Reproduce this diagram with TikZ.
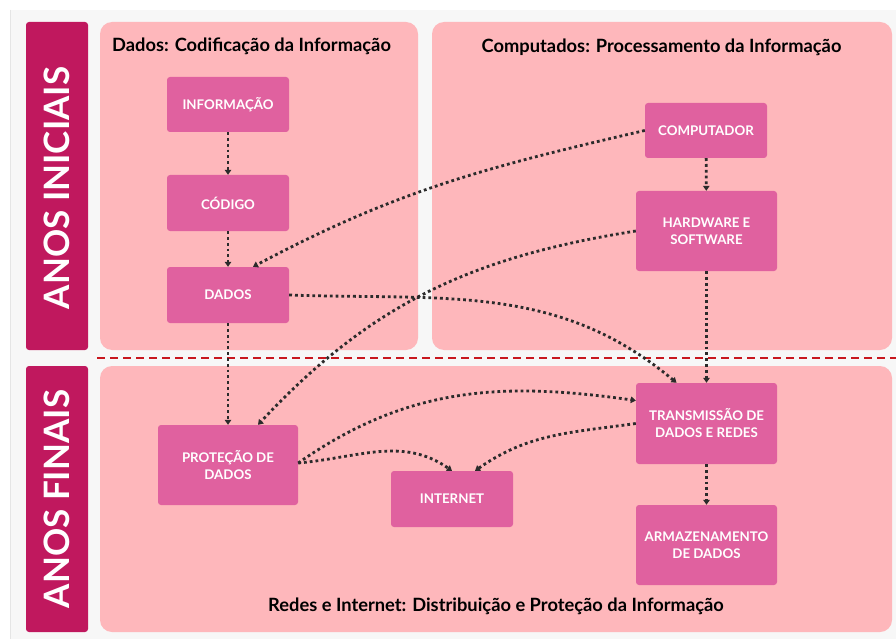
\documentclass[tikz,border=0pt]{standalone}
\usepackage{fontspec}
\setmainfont{Lato}
\usetikzlibrary{positioning,arrows.meta,calc}
\definecolor{barmag}{HTML}{C0185E}
\definecolor{panelpink}{HTML}{FEB7BB}
\definecolor{boxpink}{HTML}{E0619F}
\definecolor{dotgray}{HTML}{2B2B2B}
\definecolor{divred}{HTML}{C8171E}
\definecolor{bggray}{HTML}{F7F7F7}

\begin{document}
\begin{tikzpicture}[
    x=1pt, y=1pt,
    panel/.style={fill=panelpink, rounded corners=12pt},
    bar/.style={fill=barmag, rounded corners=3pt},
    barlbl/.style={text=white, font=\fontsize{35}{35}\selectfont\bfseries, rotate=90},
    box/.style={fill=boxpink, rounded corners=3pt, text=white, align=center,
                font=\fontsize{13.3}{17}\selectfont\bfseries, inner sep=0pt},
    hdr/.style={font=\fontsize{18.3}{22}\selectfont\bfseries},
    arr/.style={-{Triangle[length=5pt,width=6.5pt]}, dotgray, line width=2.8pt,
                dash pattern=on 2.8pt off 3pt},
  ]
  \useasboundingbox (0,0) rectangle (896,-639);
  \fill[white] (0,0) rectangle (896,-639);
  \fill[bggray] (10,-10) rectangle (896,-639);
  \draw[gray!20] (10,-10) -- (10,-639);

  % Side bars
  \fill[bar] (26,-22) rectangle (88,-350);
  \fill[bar] (26,-366) rectangle (88,-632);
  \node[barlbl] (lini) at (57,-188) {ANOS INICIAIS};
  \node[barlbl] (lfin) at (57,-499) {ANOS FINAIS};

  % Panels
  \fill[panel] (100,-22) rectangle (418,-350);
  \fill[panel] (432,-22) rectangle (892,-350);
  \fill[panel] (100,-366) rectangle (892,-632);
  \draw[divred, line width=2pt, dash pattern=on 8pt off 5pt] (97,-358) -- (896,-358);

  \node[hdr] (hdados) at (251.5,-46) {Dados: Codificação da Informação};
  \node[hdr] (hcomp) at (661.5,-47) {Computados: Processamento da Informação};
  \node[hdr] (hredes) at (496,-606) {Redes e Internet: Distribuição e Proteção da Informação};

  % Dados
  \node[box, minimum width=122pt, minimum height=55pt] (info) at (228,-104.5) {INFORMAÇÃO};
  \node[box, minimum width=122pt, minimum height=56pt] (cod) at (228,-203) {CÓDIGO};
  \node[box, minimum width=122pt, minimum height=56pt] (dados) at (228,-295) {DADOS};

  % Computados
  \node[box, minimum width=122pt, minimum height=55pt] (comp) at (706,-130.5) {COMPUTADOR};
  \node[box, minimum width=141pt, minimum height=80pt] (hw) at (706.5,-231) {HARDWARE E\\SOFTWARE};

  % Redes e Internet
  \node[box, minimum width=140pt, minimum height=80pt] (prot) at (228,-465) {PROTEÇÃO DE\\DADOS};
  \node[box, minimum width=122pt, minimum height=56pt] (inet) at (452,-499) {INTERNET};
  \node[box, minimum width=141pt, minimum height=81pt] (trans) at (706.5,-423.5) {TRANSMISSÃO DE\\DADOS E REDES};
  \node[box, minimum width=141pt, minimum height=80pt] (armaz) at (706.5,-545) {ARMAZENAMENTO\\DE DADOS};

  % Straight links
  \draw[arr] (info) -- (cod);
  \draw[arr] (cod) -- (dados);
  \draw[arr] (dados) -- (prot);
  \draw[arr] (comp) -- (hw);
  \draw[arr] (hw) -- (trans);
  \draw[arr] (trans) -- (armaz);

  % Curved links
  \draw[arr] (comp.west) to[out=193, in=28] ([xshift=25pt]dados.north);
  \draw[arr] (hw.west) to[out=189, in=47] ([xshift=30pt]prot.north);
  \draw[arr] (dados.east) to[out=-2, in=140] ([xshift=-30pt]trans.north);
  \draw[arr] ([yshift=2pt]prot.east) to[out=35, in=172] ([yshift=23pt]trans.west);
  \draw[arr] ([yshift=2pt]prot.east) to[out=5, in=145] (inet.north);
  \draw[arr] (trans.west) to[out=188, in=35] ([xshift=23pt]inet.north);
\end{tikzpicture}
\end{document}
